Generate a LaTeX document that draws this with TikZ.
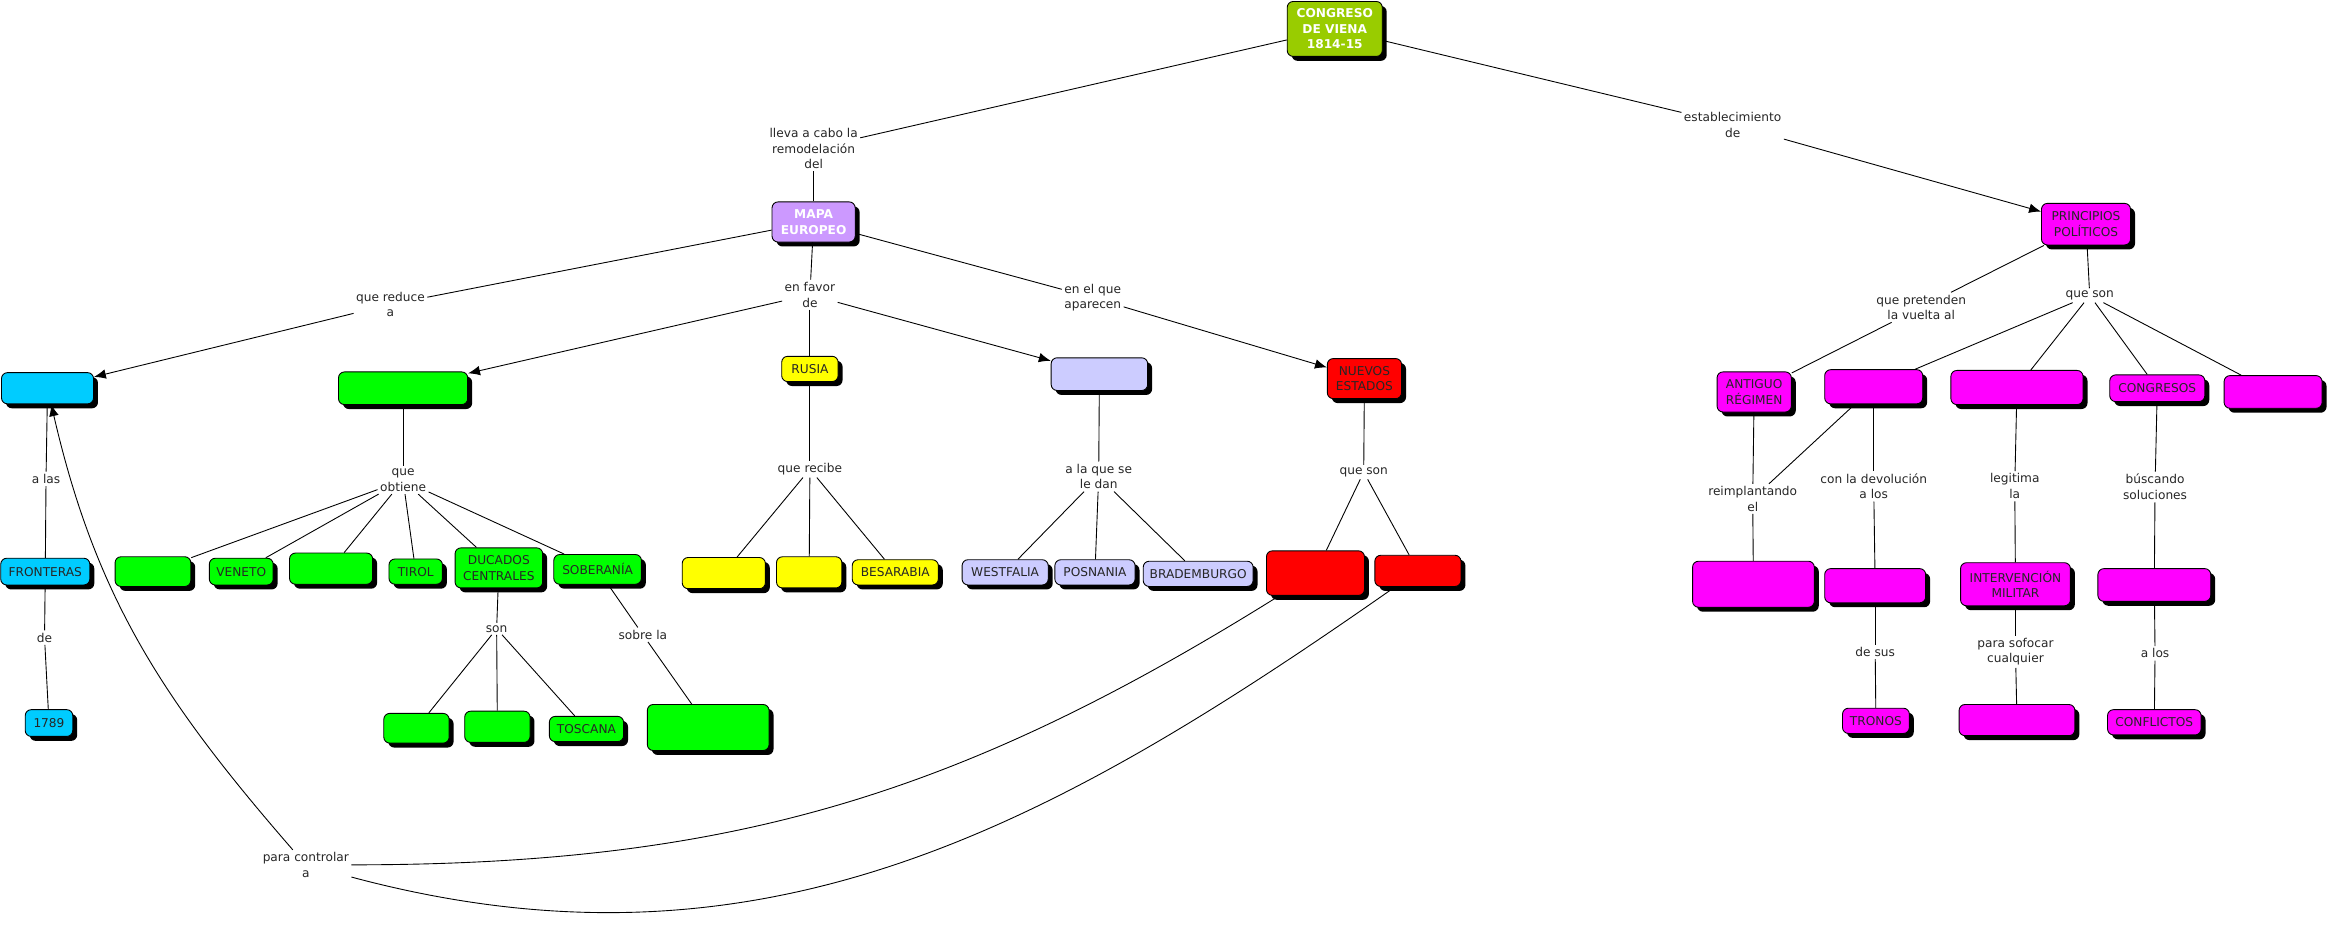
\documentclass[tikz,border=0pt]{standalone}
\usepackage{fontspec}
\setmainfont{DejaVu Sans}
\usetikzlibrary{shapes}
\usetikzlibrary{shadows}
\usetikzlibrary{arrows.meta}
\definecolor{viena}{HTML}{99CC00}
\definecolor{mapa}{HTML}{CC99FF}
\definecolor{azul}{HTML}{00CCFF}
\definecolor{verde}{HTML}{00FF00}
\definecolor{amarillo}{HTML}{FFFF00}
\definecolor{lila}{HTML}{CCCCFF}
\definecolor{rojo}{HTML}{FF0000}
\definecolor{rosa}{HTML}{FF00FF}
\newcommand{\mapfont}{\fontsize{8.2}{10.5}\selectfont}
\tikzset{
    Node/.style = {rectangle, rounded corners=4pt, draw=black, line width=0.6pt, align=center, inner sep=1.5pt, text=black!85,
        drop shadow={shadow xshift=3pt, shadow yshift=-3pt, fill=black, opacity=1}},
    Size/.style 2 args = {minimum width=#1pt, minimum height=#2pt}
}
\tikzset{
    Link/.style = {align=center, inner sep=1.5pt, text=black!85}
}
\tikzset{
    Line/.style = {draw=black, line width=0.6pt},
    Edge/.style = {draw=black, line width=0.6pt, -{Latex[length=8pt, width=6.5pt]}}
}
\begin{document}
\begin{tikzpicture}[
    x=1pt, y=-1pt,
    font=\mapfont
]
\tikzset{
    Viena/.style = {Node, fill=viena, text=white, font=\mapfont\bfseries},
    Mapa/.style = {Node, fill=mapa, text=white, font=\mapfont\bfseries},
    Azul/.style = {Node, fill=azul},
    Verde/.style = {Node, fill=verde},
    Amarillo/.style = {Node, fill=amarillo},
    Lila/.style = {Node, fill=lila},
    Rojo/.style = {Node, fill=rojo},
    Rosa/.style = {Node, fill=rosa}
}
\useasboundingbox (0,0) rectangle (1568,623);
% conceptos
\node[Viena, Size={64}{37}] at (899,19.5) (viena) {CONGRESO\\DE VIENA\\1814-15};
\node[Mapa, Size={56}{27}] at (548,149.5) (mapa) {MAPA\\EUROPEO};
\node[Rosa, Size={60}{28}] at (1405,151) (principios) {PRINCIPIOS\\POLÍTICOS};
\node[Azul, Size={62}{21}] at (32,261.5) (azul) {};
\node[Azul, Size={60}{18}] at (30.5,385) (fronteras) {FRONTERAS};
\node[Azul, Size={32}{18}] at (33,487) (y1789) {1789};
\node[Verde, Size={87}{22}] at (271.5,261.5) (verde) {};
\node[Verde, Size={51}{20}] at (103,385) (g1) {};
\node[Verde, Size={43}{18}] at (162.5,385) (veneto) {VENETO};
\node[Verde, Size={56}{21}] at (223,383) (g2) {};
\node[Verde, Size={36}{17}] at (280,385) (tirol) {TIROL};
\node[Verde, Size={59}{27}] at (336,382.5) (ducados) {DUCADOS\\CENTRALES};
\node[Verde, Size={59}{20}] at (402.5,383.5) (soberania) {SOBERANÍA};
\node[Verde, Size={44}{20}] at (280.5,490.5) (d1) {};
\node[Verde, Size={44}{21}] at (335,489.5) (d2) {};
\node[Verde, Size={50}{17}] at (395,491) (toscana) {TOSCANA};
\node[Verde, Size={82}{31}] at (477,490) (sobre1) {};
\node[Amarillo, Size={38}{17}] at (545.5,248.5) (rusia) {RUSIA};
\node[Amarillo, Size={56}{21}] at (487.5,386) (am1) {};
\node[Amarillo, Size={44}{21}] at (545,385.5) (am2) {};
\node[Amarillo, Size={58}{17}] at (603,385.5) (besarabia) {BESARABIA};
\node[Lila, Size={65}{22}] at (740.5,252) (lila) {};
\node[Lila, Size={58}{17}] at (677,385.5) (westfalia) {WESTFALIA};
\node[Lila, Size={54}{17}] at (737.5,385.5) (posnania) {POSNANIA};
\node[Lila, Size={74}{17}] at (807,386.5) (brademburgo) {BRADEMBURGO};
\node[Rojo, Size={50}{27}] at (919,255) (nuevos) {NUEVOS\\ESTADOS};
\node[Rojo, Size={66}{30}] at (886,386) (r1) {};
\node[Rojo, Size={58}{21}] at (955,384.5) (r2) {};
\node[Rosa, Size={50}{27}] at (1181.5,264) (antiguo) {ANTIGUO\\RÉGIMEN};
\node[Rosa, Size={66}{23}] at (1262,260.5) (pA) {};
\node[Rosa, Size={89}{23}] at (1358.5,261) (pB) {};
\node[Rosa, Size={64}{18}] at (1453,261.5) (congresos) {CONGRESOS};
\node[Rosa, Size={66}{22}] at (1531,264) (pE) {};
\node[Rosa, Size={82}{31}] at (1181,393.5) (pAnt) {};
\node[Rosa, Size={68}{23}] at (1263,394.5) (pDev) {};
\node[Rosa, Size={45}{17}] at (1263.5,485.5) (tronos) {TRONOS};
\node[Rosa, Size={74}{29}] at (1357.5,393.5) (interv) {INTERVENCIÓN\\MILITAR};
\node[Rosa, Size={78}{21}] at (1358.5,485) (pSof) {};
\node[Rosa, Size={76}{22}] at (1451,394) (pSol) {};
\node[Rosa, Size={63}{17}] at (1451,486.5) (conflictos) {CONFLICTOS};
% frases de enlace
\node[Link] at (548,100) (lleva) {lleva a cabo la\\remodelación\\del};
\node[Link] at (1167,84) (estab) {establecimiento\\de};
\node[Link] at (263,205) (reduce) {que reduce\\a};
\node[Link] at (545.5,198.5) (favor) {en favor\\de};
\node[Link] at (736,200.5) (aparecen) {en el que\\aparecen};
\node[Link] at (31,322.5) (alas) {a las};
\node[Link] at (30,429.5) (dede) {de};
\node[Link] at (271.5,323.5) (obtiene) {que\\obtiene};
\node[Link] at (334.5,423.5) (son) {son};
\node[Link] at (433,427.5) (sobre) {sobre la};
\node[Link] at (545.5,316) (recibe) {que recibe};
\node[Link] at (740,321) (dan) {a la que se\\le dan};
\node[Link] at (918.5,318) (sonN) {que son};
\node[Link] at (206,582.5) (controlar) {para controlar\\a};
\node[Link] at (1294,207) (pretenden) {que pretenden\\la vuelta al};
\node[Link] at (1407.5,199) (sonP) {que son};
\node[Link] at (1180.5,336) (reimpl) {reimplantando\\el};
\node[Link] at (1262,327.5) (devol) {con la devolución\\a los};
\node[Link] at (1357,327.5) (legit) {legitima\\la};
\node[Link] at (1451.5,328) (soluc) {búscando\\soluciones};
\node[Link] at (1263,439) (sus) {de sus};
\node[Link] at (1357.5,439) (sofocar) {para sofocar\\cualquier};
\node[Link] at (1451.5,440) (alos) {a los};
% conexiones
\path (viena) edge [Line] (lleva);
\path (lleva) edge [Line] (mapa);
\path (viena) edge [Line] (estab);
\path (estab) edge [Edge] (principios);
\path (mapa) edge [Line] (reduce);
\path (reduce) edge [Edge] (azul);
\path (mapa) edge [Line] (favor);
\path (favor) edge [Edge] (verde);
\path (favor) edge [Line] (rusia);
\path (favor) edge [Edge] (lila);
\path (mapa) edge [Line] (aparecen);
\path (aparecen) edge [Edge] (nuevos);
\path (azul) edge [Line] (alas);
\path (alas) edge [Line] (fronteras);
\path (fronteras) edge [Line] (dede);
\path (dede) edge [Line] (y1789);
\path (verde) edge [Line] (obtiene);
\path (obtiene) edge [Line] (g1);
\path (obtiene) edge [Line] (veneto);
\path (obtiene) edge [Line] (g2);
\path (obtiene) edge [Line] (tirol);
\path (obtiene) edge [Line] (ducados);
\path (obtiene) edge [Line] (soberania);
\path (ducados) edge [Line] (son);
\path (son) edge [Line] (d1);
\path (son) edge [Line] (d2);
\path (son) edge [Line] (toscana);
\path (soberania) edge [Line] (sobre);
\path (sobre) edge [Line] (sobre1);
\path (rusia) edge [Line] (recibe);
\path (recibe) edge [Line] (am1);
\path (recibe) edge [Line] (am2);
\path (recibe) edge [Line] (besarabia);
\path (lila) edge [Line] (dan);
\path (dan) edge [Line] (westfalia);
\path (dan) edge [Line] (posnania);
\path (dan) edge [Line] (brademburgo);
\path (nuevos) edge [Line] (sonN);
\path (sonN) edge [Line] (r1);
\path (sonN) edge [Line] (r2);
\path (r1) edge [Line, out=-148, in=0] (controlar);
\path (r2) edge [Line, out=-145, in=-15] (controlar);
\path (controlar) edge [Edge, out=131, in=-77] (azul);
\path (principios) edge [Line] (pretenden);
\path (pretenden) edge [Line] (antiguo);
\path (principios) edge [Line] (sonP);
\path (sonP) edge [Line] (pA);
\path (sonP) edge [Line] (pB);
\path (sonP) edge [Line] (congresos);
\path (sonP) edge [Line] (pE);
\path (antiguo) edge [Line] (reimpl);
\path (pA) edge [Line] (reimpl);
\path (reimpl) edge [Line] (pAnt);
\path (pA) edge [Line] (devol);
\path (devol) edge [Line] (pDev);
\path (pDev) edge [Line] (sus);
\path (sus) edge [Line] (tronos);
\path (pB) edge [Line] (legit);
\path (legit) edge [Line] (interv);
\path (interv) edge [Line] (sofocar);
\path (sofocar) edge [Line] (pSof);
\path (congresos) edge [Line] (soluc);
\path (soluc) edge [Line] (pSol);
\path (pSol) edge [Line] (alos);
\path (alos) edge [Line] (conflictos);
\end{tikzpicture}
\end{document}
